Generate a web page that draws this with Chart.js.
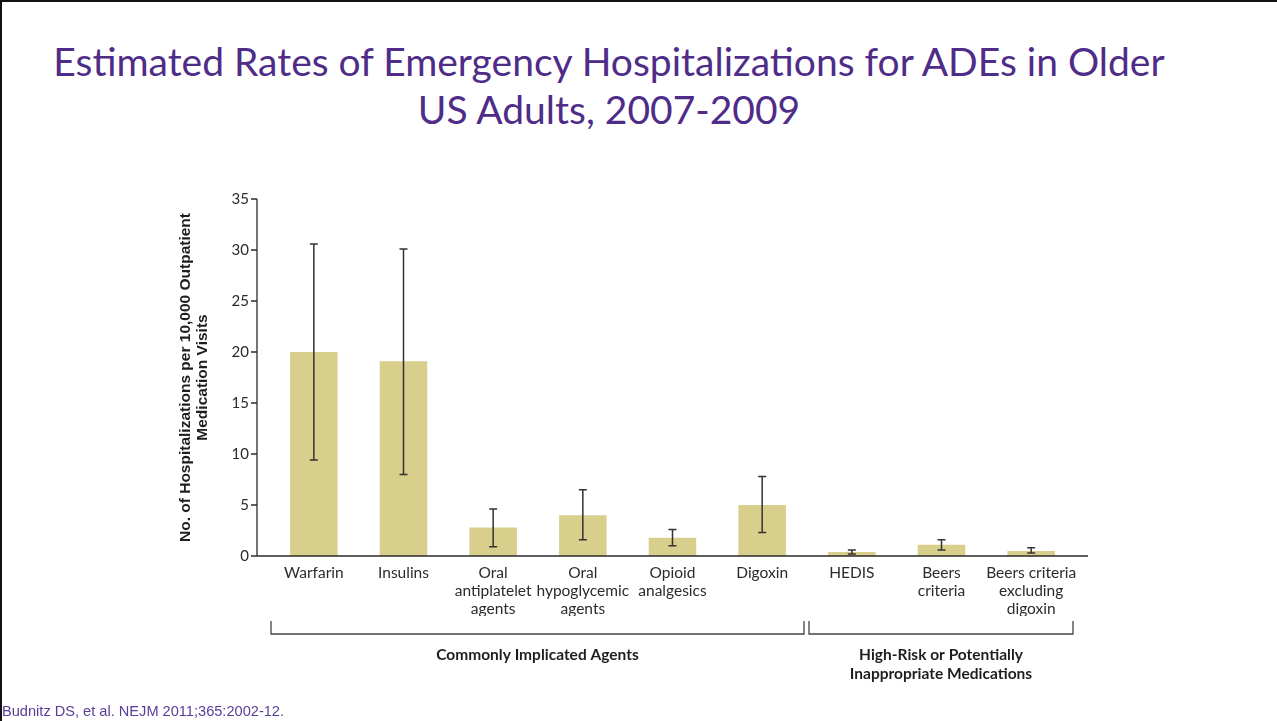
<!DOCTYPE html>
<html>
<head>
<meta charset="utf-8">
<script src="https://cdn.jsdelivr.net/npm/chart.js@4.4.1/dist/chart.umd.min.js"></script>
<style>
  html, body { margin: 0; padding: 0; background: #fff; }
  #page { position: relative; width: 1277px; height: 721px; overflow: hidden; }
  #frame { position: absolute; left: 0; top: 0; right: -10px; bottom: -10px; border-left: 2px solid #111; border-top: 2px solid #111; }
  #title { position: absolute; left: 0; top: 37px; width: 1218px; text-align: center;
           font-family: Lato, sans-serif; font-size: 39px; line-height: 48px; color: #4e2c88; }
  #cite { position: absolute; left: 2px; top: 703px; font-family: "Liberation Sans", Arial, sans-serif;
          font-size: 14.6px; color: #5a3d98; }
  canvas { position: absolute; left: 0; top: 0; }
</style>
</head>
<body>
<div id="page">
  <div id="frame"></div>
  <div id="title">Estimated Rates of Emergency Hospitalizations for ADEs in Older<br>US Adults, 2007-2009</div>
  <canvas id="barChart" width="1277" height="721"></canvas>
  <div id="cite">Budnitz DS, et al. NEJM 2011;365:2002-12.</div>
</div>
<script>
// data
var categories = [
  ["Warfarin"], ["Insulins"], ["Oral", "antiplatelet", "agents"],
  ["Oral", "hypoglycemic", "agents"], ["Opioid", "analgesics"], ["Digoxin"],
  ["HEDIS"], ["Beers", "criteria"], ["Beers criteria", "excluding", "digoxin"]
];
var rates  = [20.0, 19.1, 2.8, 4.0, 1.8, 5.0, 0.4, 1.1, 0.5];
var ciLow  = [9.4, 8.0, 0.9, 1.6, 1.0, 2.3, 0.2, 0.6, 0.3];
var ciHigh = [30.6, 30.1, 4.6, 6.5, 2.6, 7.8, 0.6, 1.6, 0.8];
var yTicks = [0, 5, 10, 15, 20, 25, 30, 35];
var groupLabels = [["Commonly Implicated Agents"], ["High-Risk or Potentially", "Inappropriate Medications"]];
var groupFirst = [0, 6];
var groupLast  = [5, 8];

var ink = '#2b2b2b';

// axis lines, tick marks, error bars and group brackets
var extras = {
  id: 'extras',
  afterDatasetsDraw: function(chart) {
    var ctx = chart.ctx, x = chart.scales.x, y = chart.scales.y, area = chart.chartArea;
    var ext = 12;
    ctx.save();
    ctx.strokeStyle = ink;
    ctx.lineWidth = 1.3;
    ctx.beginPath();
    ctx.moveTo(area.left - ext, y.getPixelForValue(35));
    ctx.lineTo(area.left - ext, y.getPixelForValue(0));
    ctx.lineTo(area.right + ext, y.getPixelForValue(0));
    yTicks.forEach(function(v) {
      var py = y.getPixelForValue(v);
      ctx.moveTo(area.left - ext - 6, py);
      ctx.lineTo(area.left - ext, py);
    });
    ctx.stroke();

    // error bars
    ctx.strokeStyle = '#333';
    ctx.lineWidth = 1.5;
    ctx.beginPath();
    rates.forEach(function(r, i) {
      var px = x.getPixelForValue(i);
      var lo = y.getPixelForValue(ciLow[i]), hi = y.getPixelForValue(ciHigh[i]);
      ctx.moveTo(px, lo); ctx.lineTo(px, hi);
      ctx.moveTo(px - 4, lo); ctx.lineTo(px + 4, lo);
      ctx.moveTo(px - 4, hi); ctx.lineTo(px + 4, hi);
    });
    ctx.stroke();

    // group brackets
    var half = (x.getPixelForValue(1) - x.getPixelForValue(0)) / 2;
    var base = area.bottom;
    ctx.strokeStyle = '#444';
    ctx.lineWidth = 1.3;
    ctx.fillStyle = '#1e1e1e';
    ctx.font = 'bold 15.5px Lato, sans-serif';
    ctx.textAlign = 'center';
    ctx.textBaseline = 'middle';
    groupLabels.forEach(function(lbl, g) {
      var x0 = x.getPixelForValue(groupFirst[g]) - half + 2;
      var x1 = x.getPixelForValue(groupLast[g]) + half - 3;
      ctx.beginPath();
      ctx.moveTo(x0, base + 65); ctx.lineTo(x0, base + 78);
      ctx.lineTo(x1, base + 78); ctx.lineTo(x1, base + 65);
      ctx.stroke();
      lbl.forEach(function(t, k) {
        ctx.fillText(t, (x0 + x1) / 2, base + 99 + k * 19);
      });
    });
    ctx.restore();
  }
};

var ctxB = document.getElementById('barChart').getContext('2d');
var myBarChart = new Chart(ctxB, {
  type: 'bar',
  data: {
    labels: categories,
    datasets: [{
      label: 'Rate',
      data: rates,
      backgroundColor: 'rgb(217, 207, 140)',
      borderWidth: 0,
      barPercentage: 0.53,
      categoryPercentage: 1.0
    }]
  },
  options: {
    responsive: false,
    animation: false,
    devicePixelRatio: 1,
    layout: { padding: { left: 170, right: 201, top: 199, bottom: 105 } },
    plugins: { legend: { display: false }, tooltip: { enabled: false }, title: { display: false } },
    scales: {
      x: {
        grid: { display: false, drawTicks: false },
        border: { display: false },
        ticks: { color: ink, padding: 8, maxRotation: 0, autoSkip: false,
                 font: { family: 'Lato, sans-serif', size: 15.5, lineHeight: 1.16 } },
        afterFit: function(s) { s.height = 60; }
      },
      y: {
        min: 0, max: 35,
        grid: { display: false, drawTicks: false },
        border: { display: false },
        ticks: { stepSize: 5, color: ink, padding: 20,
                 font: { family: 'Lato, sans-serif', size: 15 } },
        title: {
          display: true,
          text: ['No. of Hospitalizations per 10,000 Outpatient', 'Medication Visits'],
          color: '#1e1e1e',
          padding: { top: 7.5, bottom: 0 },
          font: { family: '"Liberation Sans", Arial, sans-serif', size: 15.5, weight: 'bold', lineHeight: 1.1 }
        },
        afterFit: function(s) { s.width = 99; }
      }
    }
  },
  plugins: [extras]
});
</script>
</body>
</html>
